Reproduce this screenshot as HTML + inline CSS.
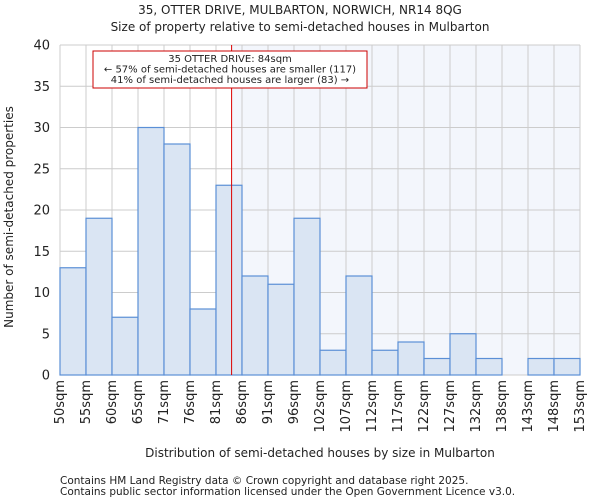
<!DOCTYPE html>
<html><head><meta charset="utf-8"><style>
body{margin:0;background:#fff;font-family:"DejaVu Sans","Liberation Sans",sans-serif}
text{font-family:"DejaVu Sans","Liberation Sans",sans-serif;fill:#222}
</style></head><body>
<svg id="chart" width="600" height="500" xmlns="http://www.w3.org/2000/svg">
<text x="300" y="14" font-size="12" text-anchor="middle">35, OTTER DRIVE, MULBARTON, NORWICH, NR14 8QG</text>
<text x="300" y="31" font-size="12" text-anchor="middle">Size of property relative to semi-detached houses in Mulbarton</text>
<g id="plot"></g>
<text x="320" y="457" font-size="12" text-anchor="middle">Distribution of semi-detached houses by size in Mulbarton</text>
<text transform="translate(13,217) rotate(-90)" font-size="12" text-anchor="middle">Number of semi-detached properties</text>
<text x="60" y="484" font-size="10.5">Contains HM Land Registry data © Crown copyright and database right 2025.</text>
<text x="60" y="495" font-size="10.5">Contains public sector information licensed under the Open Government Licence v3.0.</text>
</svg>
<script>
const categories=["50sqm","55sqm","60sqm","65sqm","71sqm","76sqm","81sqm","86sqm","91sqm","96sqm","102sqm","107sqm","112sqm","117sqm","122sqm","127sqm","132sqm","138sqm","143sqm","148sqm","153sqm"];
const counts=[13,19,7,30,28,8,23,12,11,19,3,12,3,4,2,5,2,0,2,2];
const yTicks=[0,5,10,15,20,25,30,35,40];
const markerBin=6.6;
const X0=60,X1=580,Y0=375,Y1=45,N=counts.length;
const bw=(X1-X0)/N;
const xs=i=>X0+i*bw;
const ys=v=>Y0-(v/40)*(Y0-Y1);
const NS="http://www.w3.org/2000/svg";
const g=document.getElementById('plot');
function mk(t,a){const e=document.createElementNS(NS,t);for(const k in a)e.setAttribute(k,a[k]);g.appendChild(e);return e;}
const mx=xs(markerBin);
let e=mk('rect',{x:mx,y:Y1,width:X1-mx,height:Y0-Y1,fill:'#f3f6fc'});


for(let i=0;i<=N;i++){e=mk('line',{x1:xs(i),x2:xs(i),y1:Y1,y2:Y0,stroke:'#cccccc','stroke-width':1});

}
yTicks.forEach(t=>{e=mk('line',{x1:X0,x2:X1,y1:ys(t),y2:ys(t),stroke:'#cccccc','stroke-width':1});


e=mk('text',{x:X0-10,y:ys(t)+4.5,'font-size':13,'text-anchor':'end'});e.textContent=t;

});
counts.forEach((v,i)=>{if(v<=0)return;e=mk('rect',{x:xs(i),y:ys(v),width:bw,height:Y0-ys(v),fill:'#dae5f3',stroke:'#5b8fd6','stroke-width':1.2});

});
categories.forEach((c,i)=>{const x=xs(i)+4;e=mk('text',{transform:`translate(${x},380) rotate(-90)`,'font-size':13,'text-anchor':'end'});e.textContent=c;

});
e=mk('line',{x1:mx,x2:mx,y1:Y1,y2:Y0,stroke:'#dd0000','stroke-width':1});


e=mk('rect',{x:93,y:51,width:274,height:37,fill:'#fff',stroke:'#cc0000','stroke-width':1});


["35 OTTER DRIVE: 84sqm","← 57% of semi-detached houses are smaller (117)","41% of semi-detached houses are larger (83) →"].forEach((s,k)=>{
e=mk('text',{x:230,y:62+k*10.5,'font-size':10,'text-anchor':'middle'});e.textContent=s;

});
</script>
</body></html>
